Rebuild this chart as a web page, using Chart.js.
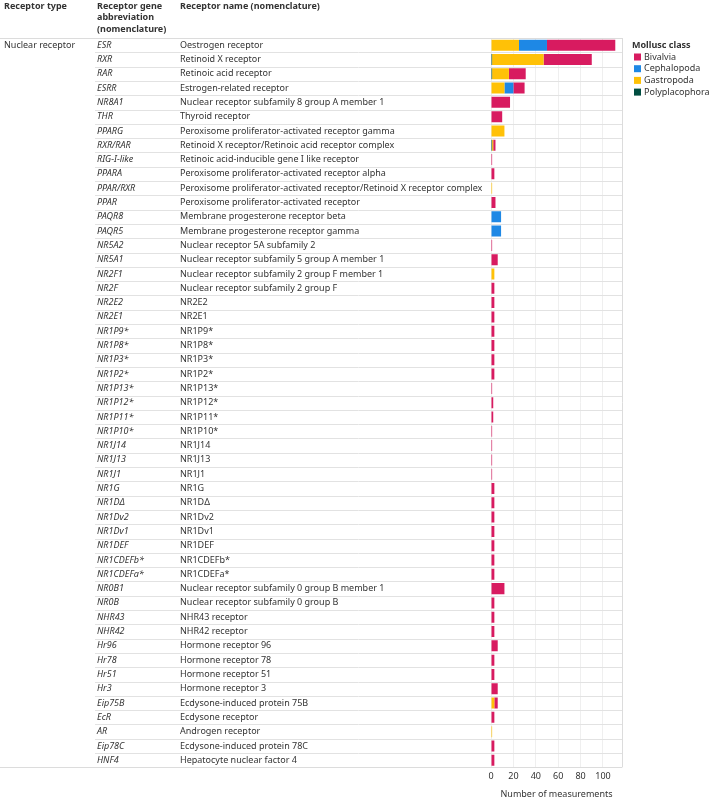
<!DOCTYPE html>
<html>
<head>
<meta charset="utf-8">
<script src="https://cdn.jsdelivr.net/npm/chart.js@4"></script>
<style>
  body { margin: 0; background: #fff; }
  #wrap { width: 709px; height: 800px; position: relative; }
</style>
</head>
<body>
<div id="wrap"><canvas id="chart"></canvas></div>
<script>
// Table rows
const genes = [
  "ESR", "RXR", "RAR", "ESRR", "NR8A1", "THR", "PPARG", "RXR/RAR", "RIG-I-like", "PPARA",
  "PPAR/RXR", "PPAR", "PAQR8", "PAQR5", "NR5A2", "NR5A1", "NR2F1", "NR2F", "NR2E2", "NR2E1",
  "NR1P9*", "NR1P8*", "NR1P3*", "NR1P2*", "NR1P13*", "NR1P12*", "NR1P11*", "NR1P10*", "NR1J14", "NR1J13",
  "NR1J1", "NR1G", "NR1D\u0394", "NR1Dv2", "NR1Dv1", "NR1DEF", "NR1CDEFb*", "NR1CDEFa*", "NR0B1", "NR0B",
  "NHR43", "NHR42", "Hr96", "Hr78", "Hr51", "Hr3", "Eip75B", "EcR", "AR", "Eip78C", "HNF4"
];

const names = [
  "Oestrogen receptor", "Retinoid X receptor", "Retinoic acid receptor", "Estrogen-related receptor",
  "Nuclear receptor subfamily 8 group A member 1", "Thyroid receptor",
  "Peroxisome proliferator-activated receptor gamma", "Retinoid X receptor/Retinoic acid receptor complex",
  "Retinoic acid-inducible gene I like receptor", "Peroxisome proliferator-activated receptor alpha",
  "Peroxisome proliferator-activated receptor/Retinoid X receptor complex",
  "Peroxisome proliferator-activated receptor", "Membrane progesterone receptor beta",
  "Membrane progesterone receptor gamma", "Nuclear receptor 5A subfamily 2",
  "Nuclear receptor subfamily 5 group A member 1", "Nuclear receptor subfamily 2 group F member 1",
  "Nuclear receptor subfamily 2 group F", "NR2E2", "NR2E1",
  "NR1P9*", "NR1P8*", "NR1P3*", "NR1P2*", "NR1P13*", "NR1P12*", "NR1P11*", "NR1P10*", "NR1J14", "NR1J13",
  "NR1J1", "NR1G", "NR1D\u0394", "NR1Dv2", "NR1Dv1", "NR1DEF", "NR1CDEFb*", "NR1CDEFa*",
  "Nuclear receptor subfamily 0 group B member 1", "Nuclear receptor subfamily 0 group B",
  "NHR43 receptor", "NHR42 receptor", "Hormone receptor 96", "Hormone receptor 78",
  "Hormone receptor 51", "Hormone receptor 3", "Ecdysone-induced protein 75B", "Ecdysone receptor",
  "Androgen receptor", "Ecdysone-induced protein 78C", "Hepatocyte nuclear factor 4"
];

const receptorType = "Nuclear receptor";

// Number of measurements per mollusc class
const polyplacophora = [0, 1, 1, 0, 0, 0, 0, 1, 0, 0, 0, 0, 0, 0, 0, 0, 0, 0, 0, 0,
  0, 0, 0, 0, 0, 0, 0, 0, 0, 0, 0, 0, 0, 0, 0, 0, 0, 0, 0, 0, 0, 0, 0, 0, 0, 0, 0, 0, 0, 0, 0];
const gastropoda = [25, 46, 15, 12, 0, 0, 12, 1, 0, 0, 1, 0, 0, 0, 0, 0, 3, 0, 0, 0,
  0, 0, 0, 0, 0, 0, 0, 0, 0, 0, 0, 0, 0, 0, 0, 0, 0, 0, 0, 0, 0, 0, 0, 0, 0, 0, 3, 0, 1, 0, 0];
const cephalopoda = [25, 0, 0, 8, 0, 0, 0, 0, 0, 0, 0, 0, 9, 9, 0, 0, 0, 0, 0, 0,
  0, 0, 0, 0, 0, 0, 0, 0, 0, 0, 0, 0, 0, 0, 0, 0, 0, 0, 0, 0, 0, 0, 0, 0, 0, 0, 0, 0, 0, 0, 0];
const bivalvia = [61, 43, 15, 10, 17, 10, 0, 2, 1, 3, 0, 4, 0, 0, 1, 6, 0, 3, 3, 3,
  3, 3, 3, 3, 1, 2, 2, 1, 1, 1, 1, 3, 3, 3, 3, 3, 3, 3, 12, 3, 3, 3, 6, 3, 3, 6, 3, 3, 0, 3, 3];

const xTicks = [0, 20, 40, 60, 80, 100];

const colors = {
  Bivalvia: "#D81B60",
  Cephalopoda: "#1E88E5",
  Gastropoda: "#FFC107",
  Polyplacophora: "#004D40"
};
const legendOrder = ["Bivalvia", "Cephalopoda", "Gastropoda", "Polyplacophora"];

const FONT = "'Noto Sans', 'Open Sans', sans-serif";

// draws the table text, row lines and legend around the bars
const tablePlugin = {
  id: "tablePlugin",
  beforeDatasetsDraw(chart) {
    const ctx = chart.ctx;
    const y = chart.scales.y;
    const area = chart.chartArea;
    const rowH = (area.bottom - area.top) / genes.length;
    ctx.save();
    ctx.strokeStyle = "#e2e2e2";
    ctx.lineWidth = 1;
    for (let i = 0; i < genes.length - 1; i++) {
      const yy = Math.round(y.getPixelForValue(i) + rowH / 2) + 0.5;
      ctx.beginPath();
      ctx.moveTo(95, yy);
      ctx.lineTo(area.right, yy);
      ctx.stroke();
    }
    // header and bottom lines
    ctx.strokeStyle = "#dcdcdc";
    [area.top, area.bottom].forEach(v => {
      const yy = Math.round(v) + 0.5;
      ctx.beginPath();
      ctx.moveTo(0, yy);
      ctx.lineTo(area.right, yy);
      ctx.stroke();
    });
    // right border of the plot
    ctx.beginPath();
    ctx.moveTo(Math.round(area.right) + 0.5, area.top);
    ctx.lineTo(Math.round(area.right) + 0.5, area.bottom);
    ctx.stroke();
    ctx.restore();
  },
  afterDraw(chart) {
    const ctx = chart.ctx;
    const y = chart.scales.y;
    const area = chart.chartArea;
    ctx.save();
    ctx.textBaseline = "middle";
    ctx.fillStyle = "#333";

    // column headers
    ctx.font = "bold 9px " + FONT;
    ctx.fillText("Receptor type", 4, 6);
    ctx.fillText("Receptor gene", 97, 6);
    ctx.fillText("abbreviation", 97, 17.5);
    ctx.fillText("(nomenclature)", 97, 29);
    ctx.fillText("Receptor name (nomenclature)", 180, 6);

    ctx.font = "9px " + FONT;
    ctx.fillText(receptorType, 4, y.getPixelForValue(0));

    for (let i = 0; i < genes.length; i++) {
      const yy = y.getPixelForValue(i);
      ctx.font = "italic 9px " + FONT;
      ctx.fillText(genes[i], 97, yy);
      ctx.font = "9px " + FONT;
      ctx.fillText(names[i], 180, yy);
    }

    // legend
    const lx = area.right + 11;
    ctx.font = "bold 9px " + FONT;
    ctx.fillText("Mollusc class", lx - 1, area.top + 7);
    ctx.font = "9px " + FONT;
    legendOrder.forEach((k, i) => {
      const ly = area.top + 19 + i * 11.7;
      ctx.fillStyle = colors[k];
      ctx.fillRect(lx + 1, ly - 3.5, 7, 7);
      ctx.fillStyle = "#333";
      ctx.fillText(k, lx + 11, ly);
    });
    ctx.restore();
  }
};

const datasets = [
  { label: "Polyplacophora", data: polyplacophora, backgroundColor: colors.Polyplacophora },
  { label: "Gastropoda", data: gastropoda, backgroundColor: colors.Gastropoda },
  { label: "Cephalopoda", data: cephalopoda, backgroundColor: colors.Cephalopoda },
  { label: "Bivalvia", data: bivalvia, backgroundColor: colors.Bivalvia }
];

new Chart(document.getElementById("chart"), {
  type: "bar",
  data: { labels: genes, datasets: datasets },
  options: {
    indexAxis: "y",
    responsive: true,
    maintainAspectRatio: false,
    animation: false,
    layout: { padding: { left: 491, right: 87, top: 38, bottom: 0 } },
    datasets: { bar: { barPercentage: 0.77, categoryPercentage: 1 } },
    plugins: {
      legend: { display: false },
      tooltip: { enabled: false },
      title: { display: false }
    },
    scales: {
      x: {
        stacked: true,
        min: 0,
        max: 117,
        afterBuildTicks: scale => {
          scale.ticks = xTicks.map(v => ({ value: v }));
        },
        grid: { color: "#efefef", drawTicks: false },
        border: { display: false },
        ticks: { color: "#333", font: { family: FONT, size: 9 }, padding: 4 },
        title: {
          display: true,
          text: "Number of measurements",
          color: "#333",
          font: { family: FONT, size: 9 },
          padding: { top: 3, bottom: 0 }
        }
      },
      y: {
        stacked: true,
        display: false,
        offset: true
      }
    }
  },
  plugins: [tablePlugin]
});
</script>
</body>
</html>
